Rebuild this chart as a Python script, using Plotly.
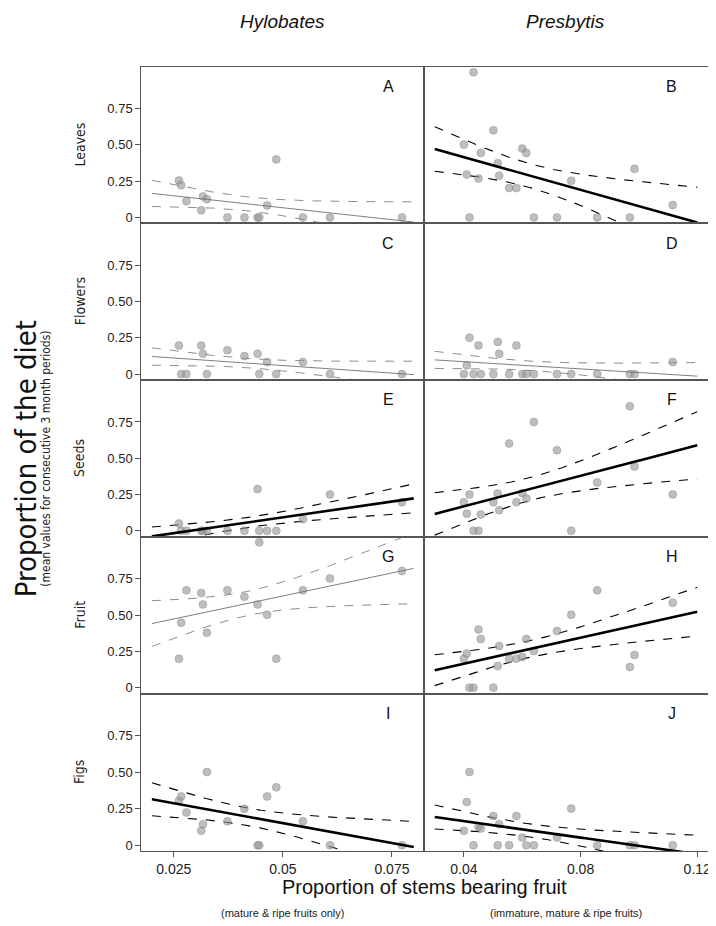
import numpy as np
import plotly.graph_objects as go
from plotly.subplots import make_subplots

# ---------------- data ----------------
hylo_x = [0.0262, 0.0267, 0.0279, 0.0313, 0.0317, 0.0326, 0.0373, 0.0412,
          0.0442, 0.0446, 0.0464, 0.0485, 0.0546, 0.0608, 0.0773]
hylo_leaves  = [0.255, 0.222, 0.112, 0.05, 0.145, 0.126, 0, 0, 0, 0, 0.083, 0.40, 0, 0, 0]
hylo_flowers = [0.197, 0, 0, 0.197, 0.14, 0, 0.165, 0.124, 0.14, 0, 0.083, 0, 0.083, 0, 0]
hylo_seeds   = [0.05, 0, 0, 0, 0, 0, 0, 0, 0.287, 0, 0, 0, 0.08, 0.25, 0.197]
hylo_fruit   = [0.2, 0.447, 0.67, 0.651, 0.573, 0.378, 0.67, 0.626, 0.573, 1.0, 0.502, 0.2, 0.67, 0.752, 0.803]
hylo_figs    = [0.305, 0.335, 0.225, 0.10, 0.145, 0.502, 0.165, 0.25, 0, 0, 0.335, 0.397, 0.165, 0, 0]

pres_x = [0.0400, 0.0410, 0.0419, 0.0433, 0.0450, 0.0458, 0.0501, 0.0516, 0.0521, 0.0555,
          0.0580, 0.0600, 0.0614, 0.0640, 0.0719, 0.0768, 0.0857, 0.0969, 0.0985, 0.1116]
pres_leaves  = [0.502, 0.296, 0, 1.0, 0.268, 0.445, 0.601, 0.374, 0.287, 0.202,
                0.202, 0.475, 0.445, 0, 0, 0.252, 0, 0, 0.335, 0.085]
pres_flowers = [0, 0.06, 0.25, 0, 0.197, 0, 0, 0.222, 0.14, 0,
                0.197, 0, 0, 0, 0, 0, 0, 0, 0, 0.083]
pres_seeds   = [0.197, 0.117, 0.25, 0, 0, 0.112, 0.197, 0.257, 0.142, 0.601,
                0.197, 0.26, 0.222, 0.75, 0.555, 0, 0.333, 0.858, 0.443, 0.25]
pres_fruit   = [0.2, 0.236, 0, 0, 0.401, 0.335, 0, 0.149, 0.287, 0.2,
                0.2, 0.211, 0.335, 0.252, 0.39, 0.502, 0.67, 0.142, 0.225, 0.585]
pres_figs    = [0.1, 0.296, 0.502, 0, 0.126, 0.115, 0.2, 0, 0.145, 0,
                0.2, 0.053, 0, 0, 0.053, 0.252, 0, 0, 0, 0]

species = ["Hylobates", "Presbytis"]
diet_items = ["Leaves", "Flowers", "Seeds", "Fruit", "Figs"]
panel_letters = [["A", "B"], ["C", "D"], ["E", "F"], ["G", "H"], ["I", "J"]]
significant = [[False, True], [False, False], [True, True], [False, True], [True, True]]
xs_data = [hylo_x, pres_x]
ys_data = [[hylo_leaves, pres_leaves], [hylo_flowers, pres_flowers], [hylo_seeds, pres_seeds],
           [hylo_fruit, pres_fruit], [hylo_figs, pres_figs]]
fit_span = [(0.02, 0.08), (0.03, 0.12)]
x_ranges = [[0.0176, 0.0824], [0.0264, 0.1236]]
x_tickvals = [[0.025, 0.05, 0.075], [0.04, 0.08, 0.12]]
x_ticktext = [["0.025", "0.05", "0.075"], ["0.04", "0.08", "0.12"]]
y_tickvals = [0, 0.25, 0.5, 0.75]
y_ticktext = ["0", "0.25", "0.50", "0.75"]
x_subtitles = ["(mature & ripe fruits only)", "(immature, mature & ripe fruits)"]


def ols_band(x, y, xs, k=1.6):
    x = np.asarray(x, float)
    y = np.asarray(y, float)
    n = len(x)
    b, a = np.polyfit(x, y, 1)
    fit = a + b * xs
    resid = y - (a + b * x)
    s = np.sqrt(np.sum(resid ** 2) / (n - 2))
    sxx = np.sum((x - x.mean()) ** 2)
    se = s * np.sqrt(1.0 / n + (xs - x.mean()) ** 2 / sxx)
    return fit, fit - k * se, fit + k * se


# page has an 8px body margin, so the figure is 8px smaller and positions shift by 8
OFF = 8
W, H = 716 - OFF, 926 - OFF


def px_x(v):
    return (v - OFF) / W


def px_y(v):
    return 1 - (v - OFF) / H


col_px = [(142, 426), (426, 710.7)]
row_px = [(66.7, 223.7), (223.7, 380.7), (380.7, 537.7), (537.7, 695), (695, 853)]

fig = make_subplots(rows=5, cols=2, horizontal_spacing=0, vertical_spacing=0)

SANS = "Liberation Sans, Arial, sans-serif"
TICKFONT = dict(family=SANS, size=13, color="#222")
NARROW = "Liberation Sans Narrow, Arial Narrow, DejaVu Sans Condensed, sans-serif"


def note(text, x, y, font, angle=0, xref="paper", yref="paper"):
    fig.add_annotation(text=text, xref=xref, yref=yref, x=x, y=y, textangle=angle,
                       showarrow=False, xanchor="center", yanchor="middle", font=font)


for r in range(5):
    for c in range(2):
        x = xs_data[c]
        y = ys_data[r][c]
        xs = np.linspace(fit_span[c][0], fit_span[c][1], 200)
        fit, lo, hi = ols_band(x, y, xs)
        sig = significant[r][c]
        line_col = "black" if sig else "#707070"
        line_w = 2.6 if sig else 0.9
        dash_col = "black" if sig else "#808080"
        dash_w = 1.1 if sig else 0.9
        for band in (lo, hi):
            fig.add_trace(go.Scatter(x=xs, y=band, mode="lines",
                                     line=dict(color=dash_col, width=dash_w, dash="dash"),
                                     hoverinfo="skip", showlegend=False), row=r + 1, col=c + 1)
        fig.add_trace(go.Scatter(x=x, y=y, mode="markers",
                                 marker=dict(size=8, color="rgba(150,150,150,0.62)",
                                             line=dict(width=0.6, color="rgba(110,110,110,0.5)")),
                                 cliponaxis=False, showlegend=False), row=r + 1, col=c + 1)
        fig.add_trace(go.Scatter(x=xs, y=fit, mode="lines",
                                 line=dict(color=line_col, width=line_w),
                                 hoverinfo="skip", showlegend=False), row=r + 1, col=c + 1)

        idx = r * 2 + c + 1
        sfx = "" if idx == 1 else str(idx)
        xd = [px_x(col_px[c][0]), px_x(col_px[c][1])]
        yd = [px_y(row_px[r][1]), px_y(row_px[r][0])]
        bottom = (r == 4)
        left = (c == 0)
        fig.layout["xaxis" + sfx].update(
            domain=xd, range=x_ranges[c], showline=True, mirror=True, linecolor="#555",
            linewidth=1.3, showgrid=False, zeroline=False,
            tickvals=x_tickvals[c] if bottom else [], ticktext=x_ticktext[c] if bottom else [],
            ticks="outside" if bottom else "", ticklen=5, tickcolor="#555",
            showticklabels=bottom, tickfont=dict(TICKFONT, size=14))
        fig.layout["yaxis" + sfx].update(
            domain=yd, range=[-0.04, 1.04], showline=True, mirror=True, linecolor="#555",
            linewidth=1.3, showgrid=False, zeroline=False,
            tickvals=y_tickvals if left else [], ticktext=y_ticktext if left else [],
            ticks="outside" if left else "", ticklen=5, tickcolor="#555",
            showticklabels=left, tickfont=TICKFONT)
        note(panel_letters[r][c], 0.873, 0.873, dict(family=SANS, size=16, color="#111"),
             xref="x" + sfx + " domain", yref="y" + sfx + " domain")

# row labels
for r in range(5):
    yc = px_y((row_px[r][0] + row_px[r][1]) / 2)
    note(diet_items[r], px_x(80), yc, dict(family=NARROW, size=14, color="#222"), angle=-90)

# column titles and x subtitles
for c in range(2):
    xc = px_x((col_px[c][0] + col_px[c][1]) / 2)
    note("<i>" + species[c] + "</i>", xc, px_y(22), dict(family=SANS, size=19, color="#111"))
    note(x_subtitles[c], xc, px_y(915), dict(family=SANS, size=11, color="#222"))

# axis titles
note("Proportion of stems bearing fruit", px_x(426), px_y(889),
     dict(family=SANS, size=20, color="#111"))
ymid = px_y((row_px[0][0] + row_px[4][1]) / 2)
note("Proportion of the diet", px_x(25.5), ymid, dict(family=NARROW, size=29, color="#111"), angle=-90)
note("(mean values for consecutive 3 month periods)", px_x(46), ymid,
     dict(family=NARROW, size=12, color="#222"), angle=-90)

fig.update_layout(width=W, height=H, margin=dict(l=0, r=0, t=0, b=0),
                  paper_bgcolor="white", plot_bgcolor="white", showlegend=False)

fig.write_html("out.html")
